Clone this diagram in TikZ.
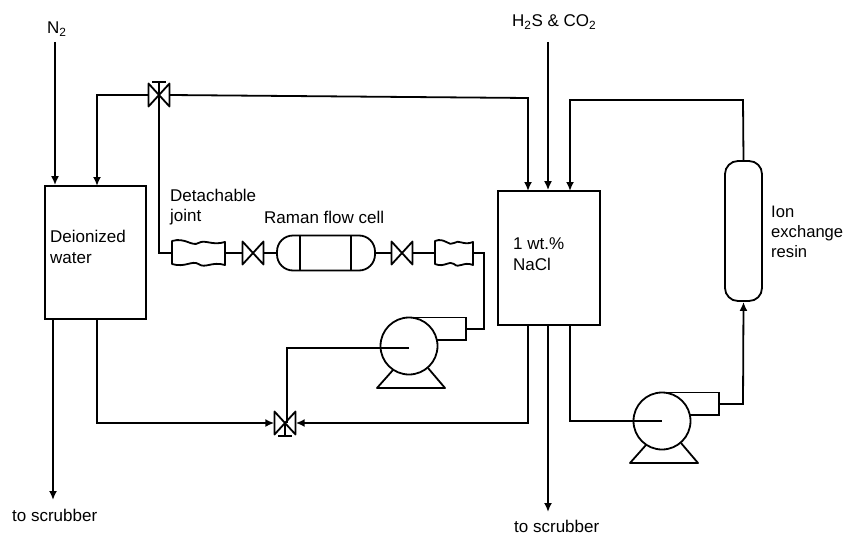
\documentclass[tikz,border=0pt]{standalone}
\usepackage{fontspec}
\setmainfont{Liberation Sans}
\usetikzlibrary{arrows.meta}
\tikzset{
  x=1pt,y=-1pt,
  pipe/.style={line width=1.8pt,line join=miter},
  flow/.style={pipe,-{Latex[length=9pt,width=8pt]}},
  label/.style={font=\fontsize{17}{20.5}\selectfont,inner sep=0pt,align=left,anchor=west},
  vessel/.style={draw,line width=1.8pt,rectangle,inner sep=0pt},
  port/.style={inner sep=0pt,minimum width=21pt,minimum height=24pt},
  valve/.pic={
    \node[port] (-n) at (0,0) {};
    \draw[pipe,line join=round] (-10.5,-11.5)--(10.5,11.5)--(10.5,-11.5)--(-10.5,11.5)--cycle;
  },
  stemup/.pic={\draw[pipe] (0,0)--(0,-13) (-7,-13)--(7,-13);},
  stemdown/.pic={\draw[pipe] (0,0)--(0,13) (-7,13)--(7,13);},
  joint/.pic={
    \node[port,minimum width=#1 pt] (-n) at (0,0) {};
    \draw[pipe,line join=round] (-#1/2,-12) .. controls (-#1/4,-16) and (-#1/8,-6) .. (0,-10)
       .. controls (#1/8,-14) and (#1/4,-7) .. (#1/2,-11) -- (#1/2,12)
       .. controls (#1/4,8) and (#1/8,16) .. (0,11)
       .. controls (-#1/8,7) and (-#1/4,15) .. (-#1/2,11) -- cycle;
  },
  pump/.pic={
    \node[circle,draw,line width=1.8pt,minimum size=57pt,inner sep=0pt] (-n) at (0,0) {};
    \draw[pipe] (0,-28.5)--(57,-28.5)--(57,-6)--(28,-6);
    \coordinate (-out) at (57,-17);
    \coordinate (-in) at (0,2);
    \draw[pipe,line join=round] (-16,24)--(-32,42)--(36,42)--(19,22);
  }
}
\begin{document}
\begin{tikzpicture}
\useasboundingbox (0,0) rectangle (845,535);
% vessels
\node[vessel,minimum width=101pt,minimum height=133pt] (di) at (95.5,252.5) {};
\node[vessel,minimum width=102pt,minimum height=134pt] (nacl) at (549,258) {};
\node[vessel,rounded corners=13pt,minimum width=37pt,minimum height=140pt] (resin) at (743.5,231) {};
% raman cell
\node[vessel,rounded corners=16pt,minimum width=98pt,minimum height=35pt] (cell) at (326,253) {};
\draw[pipe] (300,235.5)--(300,270.5) (351,235.5)--(351,270.5);
% valves and fittings
\pic (v1) at (159,95) {valve};
\pic at (159,95) {stemup};
\pic (v2) at (253,253) {valve};
\pic (v3) at (402,253) {valve};
\pic (v4) at (285,423) {valve};
\pic at (285,423) {stemdown};
\pic (j1) at (198.5,253) {joint=53};
\pic (j2) at (454,253) {joint=38};
\pic (p1) at (409,346) {pump};
\pic (p2) at (662,421) {pump};
% free ends
\coordinate (n2top) at (55,42);
\coordinate (gastop) at (548,42);
\coordinate (scr1) at (53,500);
\coordinate (scr2) at (548,512);
% connectors
\draw[flow] (n2top)--(n2top|-di.north);
\draw[flow] (v1-n.west)--(97,95)--(97,186);
\draw[flow] (v1-n.east)--(528,98)--(528,191);
\draw[flow] (gastop)--(gastop|-nacl.north);
\draw[flow] (resin.north)--(743,100)--(570,100)--(570,191);
\draw[pipe] (159,95)--(159,253)--(j1-n.west);
\draw[pipe] (j1-n.east)--(v2-n.west);
\draw[pipe] (v2-n.east)--(cell.west);
\draw[pipe] (cell.east)--(v3-n.west);
\draw[pipe] (v3-n.east)--(j2-n.west);
\draw[pipe] (j2-n.east)--(484,253)--(484,329)--(p1-out);
\draw[pipe] (p1-in)--(287,348)--(287,423);
\draw[flow] (53,319)--(scr1);
\draw[flow] (97,319)--(97,423)--(v4-n.west);
\draw[flow] (528,325)--(528,423)--(v4-n.east);
\draw[flow] (548,325)--(scr2);
\draw[pipe] (570,325)--(570,421)--(p2-n.center);
\draw[flow] (p2-out)--(743,404)--(resin.south);
% labels
\node[label] (ln2) at (47,29) {N\textsubscript{2}};
\node[label] (lgas) at (512,22) {H\textsubscript{2}S \& CO\textsubscript{2}};
\node[label] (ldi) at (50,247) {Deionized\\water};
\node[label] (lnacl) at (513,254) {1 wt.\%\\NaCl};
\node[label,font=\fontsize{16.6}{20}\selectfont] (lion) at (771,232) {Ion\\exchange\\resin};
\node[label] (ljoint) at (170,207) {Detachable\\joint};
\node[label] (lcell) at (264,217) {Raman flow cell};
\node[label] (ls1) at (12,515) {to scrubber};
\node[label] (ls2) at (514,526) {to scrubber};
\end{tikzpicture}
\end{document}
